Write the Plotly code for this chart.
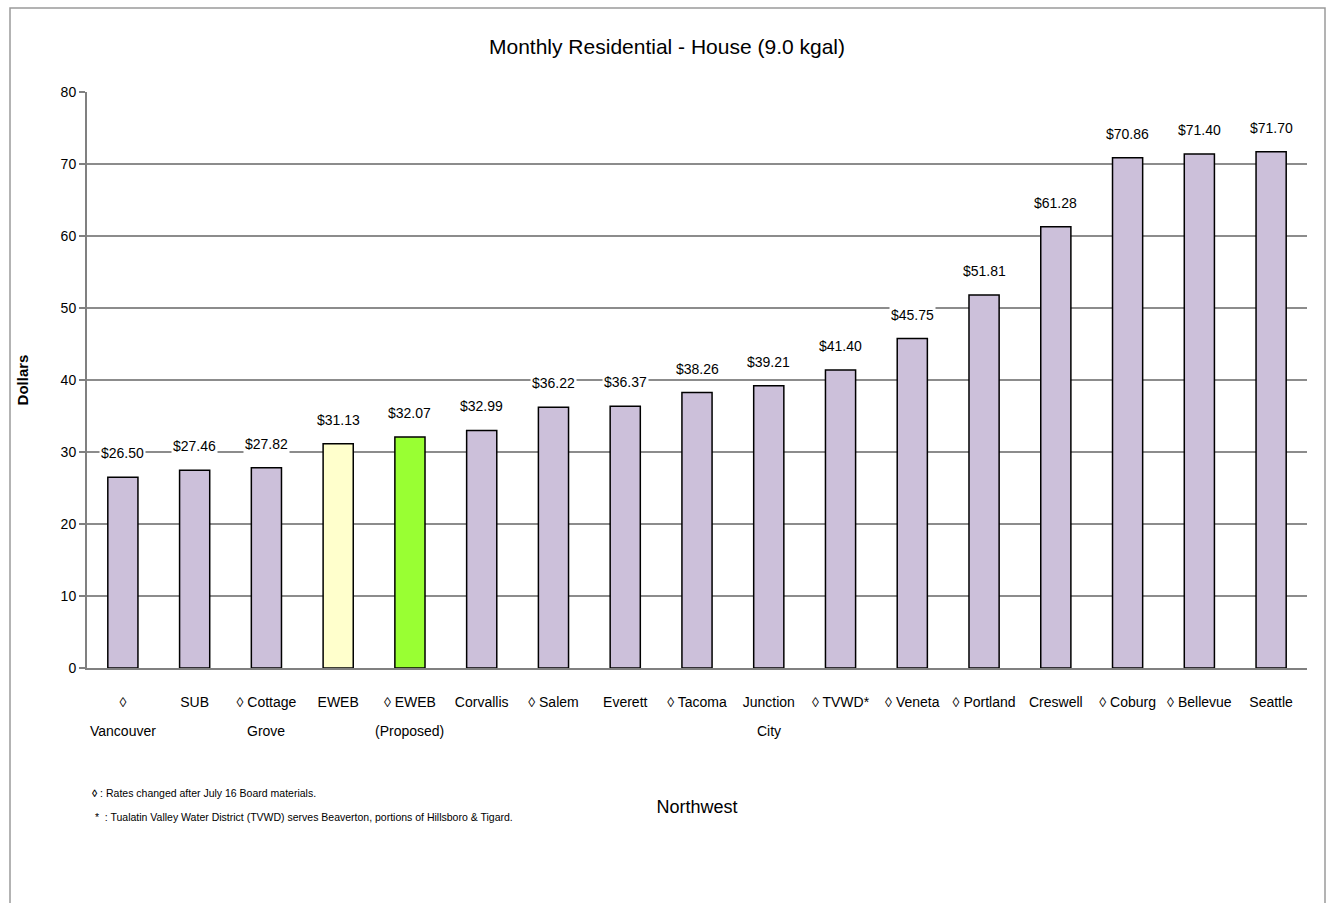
import plotly.graph_objects as go

categories = ["\u25ca<br>Vancouver", "SUB", "\u25ca Cottage<br>Grove", "EWEB", "\u25ca EWEB<br>(Proposed)",
              "Corvallis", "\u25ca Salem", "Everett", "\u25ca Tacoma", "Junction<br>City",
              "\u25ca TVWD*", "\u25ca Veneta", "\u25ca Portland", "Creswell", "\u25ca Coburg",
              "\u25ca Bellevue", "Seattle"]
values = [26.50, 27.46, 27.82, 31.13, 32.07, 32.99, 36.22, 36.37, 38.26, 39.21,
          41.40, 45.75, 51.81, 61.28, 70.86, 71.40, 71.70]
colors = ["#CCC0DA"] * 3 + ["#FFFFCC", "#99FF33"] + ["#CCC0DA"] * 12

FONT = "Liberation Sans Narrow, Arial Narrow, Liberation Sans, Arial, sans-serif"

first_lines = [c.split("<br>")[0] for c in categories]
second_lines = [c.split("<br>")[1] if "<br>" in c else "" for c in categories]
ids = list(range(len(categories)))

fig = go.Figure()
fig.add_trace(go.Bar(
    x=ids, y=values,
    marker=dict(color=colors, line=dict(color="#000000", width=1.5)),
    cliponaxis=False,
))

# value labels with white background (they interrupt the gridlines)
for i, v in enumerate(values):
    fig.add_annotation(x=i, y=v, xref="x", yref="y", text=f"${v:.2f}", showarrow=False,
                       yanchor="middle", yshift=24, bgcolor="white", borderpad=1,
                       font=dict(family=FONT, size=14, color="#000000"))

for i, s in enumerate(second_lines):
    if s:
        fig.add_annotation(x=i, y=0, xref="x", yref="y", text=s, showarrow=False,
                           yanchor="middle", yshift=-63,
                           font=dict(family=FONT, size=14, color="#000000"))

fig.update_layout(
    width=1334, height=903,
    margin=dict(l=87, r=27, t=92, b=235),
    paper_bgcolor="white", plot_bgcolor="white",
    bargap=0.58,
    showlegend=False,
    font=dict(family=FONT, size=14, color="#000000"),
    title=dict(text="Monthly Residential - House (9.0 kgal)", x=0.5, xanchor="center",
               y=1 - 47 / 903, yanchor="middle", font=dict(family=FONT, size=21, color="#000000")),
    xaxis=dict(tickmode="array", tickvals=ids, ticktext=first_lines, range=[-0.5, len(categories) - 0.5],
               showline=True, linecolor="#808080", linewidth=2, ticks="", showgrid=False,
               tickfont=dict(family=FONT, size=14), ticklabelstandoff=20,
               title=dict(text="Northwest", font=dict(family=FONT, size=18), standoff=92)),
    yaxis=dict(range=[0, 80], dtick=10, showline=True, linecolor="#808080", linewidth=2,
               ticks="outside", ticklen=6, tickcolor="#808080", tickwidth=1.5,
               showgrid=True, gridcolor="#8c8c8c", gridwidth=1.5, zeroline=False,
               tickfont=dict(family=FONT, size=14),
               title=dict(text="<b>Dollars</b>", font=dict(family="Liberation Sans, Arial, sans-serif", size=15), standoff=28)),
)

fig.add_shape(type="rect", xref="paper", yref="paper", x0=-77 / 1220, x1=1 + 18 / 1220,
              y0=-300 / 576, y1=1 + 84 / 576, line=dict(color="#9a9a9a", width=1.5))

fig.add_annotation(xref="paper", yref="paper", x=(90 - 87) / 1220, y=-(793 - 668) / 576,
                   xanchor="left", yanchor="middle", showarrow=False,
                   text="<b>\u25ca</b> : Rates changed after July 16 Board materials.",
                   font=dict(family=FONT, size=10.5, color="#000000"))
fig.add_annotation(xref="paper", yref="paper", x=(90 - 87) / 1220, y=-(817 - 668) / 576,
                   xanchor="left", yanchor="middle", showarrow=False,
                   text=" *  : Tualatin Valley Water District (TVWD) serves Beaverton, portions of Hillsboro & Tigard.",
                   font=dict(family=FONT, size=10.5, color="#000000"))

fig.write_html("out.html")
